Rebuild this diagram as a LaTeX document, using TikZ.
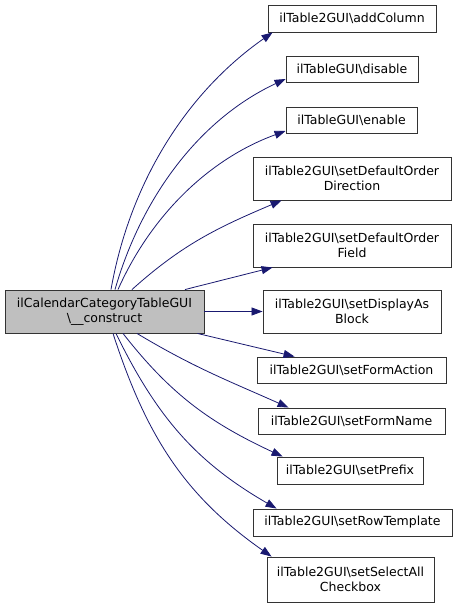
\documentclass[tikz,border=0pt]{standalone}
\usepackage{fontspec}
\setmainfont{DejaVu Sans}
\usetikzlibrary{arrows.meta}
\definecolor{edgeblue}{RGB}{25,25,112}
\definecolor{rootfill}{RGB}{191,191,191}
\begin{document}
\begin{tikzpicture}[x=1pt,y=1pt,
  box/.style={draw=black!80, line width=0.9pt, fill=white, inner sep=0pt, align=center,
    font=\fontsize{12.5}{15}\selectfont},
  rootbox/.style={box, fill=rootfill},
  edge/.style={draw=edgeblue, line width=0.8pt, -{Triangle[length=11pt,width=8pt]}}]
\useasboundingbox (0,0) rectangle (456,608);
\node[rootbox, minimum width=199pt, minimum height=43pt] (main) at (104.5,296.5)
  {ilCalendarCategoryTableGUI\\\textbackslash\_\_construct};
\node[box, minimum width=168pt, minimum height=27pt] (addc) at (352,589.5) {ilTable2GUI\textbackslash addColumn};
\node[box, minimum width=132pt, minimum height=26pt] (dis) at (352,539) {ilTableGUI\textbackslash disable};
\node[box, minimum width=131pt, minimum height=26pt] (ena) at (351.5,488) {ilTableGUI\textbackslash enable};
\node[box, minimum width=198pt, minimum height=43pt] (dir) at (352,429.5) {ilTable2GUI\textbackslash setDefaultOrder\\Direction};
\node[box, minimum width=198pt, minimum height=43pt] (fld) at (352,362.5) {ilTable2GUI\textbackslash setDefaultOrder\\Field};
\node[box, minimum width=178pt, minimum height=43pt] (blk) at (352,296.5) {ilTable2GUI\textbackslash setDisplayAs\\Block};
\node[box, minimum width=189pt, minimum height=26pt] (fact) at (351.5,238) {ilTable2GUI\textbackslash setFormAction};
\node[box, minimum width=187pt, minimum height=26pt] (fnam) at (351.5,187) {ilTable2GUI\textbackslash setFormName};
\node[box, minimum width=146pt, minimum height=27pt] (pref) at (350,137.5) {ilTable2GUI\textbackslash setPrefix};
\node[box, minimum width=199pt, minimum height=27pt] (rowt) at (352.5,85.5) {ilTable2GUI\textbackslash setRowTemplate};
\node[box, minimum width=167pt, minimum height=45pt] (chk) at (350.5,28.5) {ilTable2GUI\textbackslash setSelectAll\\Checkbox};

\draw[edge] ([xshift=6.5pt]main.north) to[out=80,in=215,looseness=0.9] ([xshift=5pt]addc.south west);
\draw[edge] ([xshift=10.5pt]main.north) to[out=74,in=205,looseness=0.9] ([yshift=-10pt]dis.west);
\draw[edge] ([xshift=13.5pt]main.north) to[out=66,in=200,looseness=0.9] ([yshift=-11pt]ena.west);
\draw[edge] ([xshift=27.5pt]main.north) to[out=42,in=203] ([xshift=29pt]dir.south west);
\draw[edge] ([xshift=80.5pt]main.north) -- ([xshift=20pt]fld.south west);
\draw[edge] (main.east) -- (blk.west);
\draw[edge] ([xshift=-7pt]main.south east) -- ([xshift=38pt]fact.north west);
\draw[edge] ([xshift=32.5pt]main.south) to[out=-31,in=156] ([xshift=31pt]fnam.north west);
\draw[edge] ([xshift=18.5pt]main.south) to[out=-52,in=155] ([xshift=6pt]pref.north west);
\draw[edge] ([xshift=11.5pt]main.south) to[out=-64,in=150] ([xshift=24pt]rowt.north west);
\draw[edge] ([xshift=8.5pt]main.south) to[out=-72,in=145] ([xshift=5pt]chk.north west);
\end{tikzpicture}
\end{document}
